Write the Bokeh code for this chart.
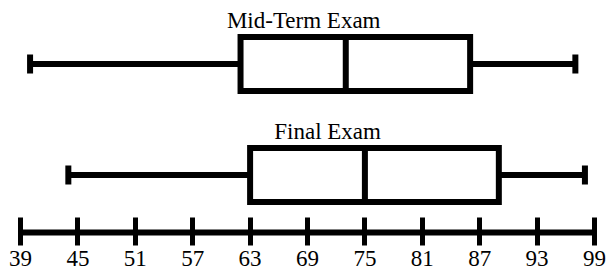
from bokeh.plotting import figure
from bokeh.models import Range1d, LinearAxis, FixedTicker, ColumnDataSource
from bokeh.core.properties import value
from bokeh.embed import file_html
from bokeh.resources import INLINE

# ---- data ----
exams = ["Mid-Term Exam", "Final Exam"]
minimum = [40, 44]
q1 = [62, 63]
median = [73, 75]
q3 = [86, 89]
maximum = [97, 98]
tick_values = [39, 45, 51, 57, 63, 69, 75, 81, 87, 93, 99]

# ---- layout helpers (positions / styles) ----
rows = [2, 1]            # vertical slot of each exam
title_x = [68.6, 71.1]   # horizontal anchor of each exam title
HALF = 0.243             # half box height (in slot units)
CAP = 0.085              # half whisker-cap height
TITLE_DY = 0.39
AXIS_Y = 0.482
FONT = value("Liberation Serif")

src = ColumnDataSource(dict(
    exam=exams, row=rows, mn=minimum, q1=q1, med=median, q3=q3, mx=maximum,
    lo=[r - HALF for r in rows], hi=[r + HALF for r in rows],
    clo=[r - CAP for r in rows], chi=[r + CAP for r in rows],
    ty=[r + TITLE_DY for r in rows], tx=title_x,
))

p = figure(width=607, height=275, output_backend="svg", toolbar_location=None,
           x_range=Range1d(36.909, 100.359), y_range=Range1d(0.0946, 2.5721),
           x_axis_location=None, y_axis_location=None,
           min_border_left=0, min_border_right=0, min_border_top=0, min_border_bottom=0)
p.outline_line_color = None
p.background_fill_color = "white"
p.border_fill_color = "white"
p.xgrid.visible = False
p.ygrid.visible = False

LW = 6
# axis base line from the first to the last tick
p.segment(x0=[tick_values[0]], y0=[AXIS_Y], x1=[tick_values[-1]], y1=[AXIS_Y],
          line_color="black", line_width=6)
# whiskers
p.segment(x0="mn", y0="row", x1="q1", y1="row", source=src, line_color="black", line_width=LW)
p.segment(x0="q3", y0="row", x1="mx", y1="row", source=src, line_color="black", line_width=LW)
# caps
p.segment(x0="mn", y0="clo", x1="mn", y1="chi", source=src, line_color="black", line_width=LW)
p.segment(x0="mx", y0="clo", x1="mx", y1="chi", source=src, line_color="black", line_width=LW)
# boxes
p.quad(left="q1", right="q3", bottom="lo", top="hi", source=src,
       fill_color="white", line_color="black", line_width=LW, line_join="miter")
# medians
p.segment(x0="med", y0="lo", x1="med", y1="hi", source=src, line_color="black", line_width=LW)
# titles
p.text(x="tx", y="ty", text="exam", source=src, text_font=FONT, text_font_size="23px",
       text_color="black", text_align="center", text_baseline="alphabetic")

axis = LinearAxis(fixed_location=AXIS_Y, ticker=FixedTicker(ticks=tick_values))
axis.axis_line_color = None
axis.major_tick_in = 15
axis.major_tick_out = 13
axis.major_tick_line_width = 5
axis.major_tick_line_color = "black"
axis.minor_tick_line_color = None
axis.major_label_text_font = "Liberation Serif"
axis.major_label_text_font_size = "23px"
axis.major_label_text_color = "black"
axis.major_label_standoff = 6
p.add_layout(axis, "below")

open("out.html", "w").write(file_html(p, INLINE))
